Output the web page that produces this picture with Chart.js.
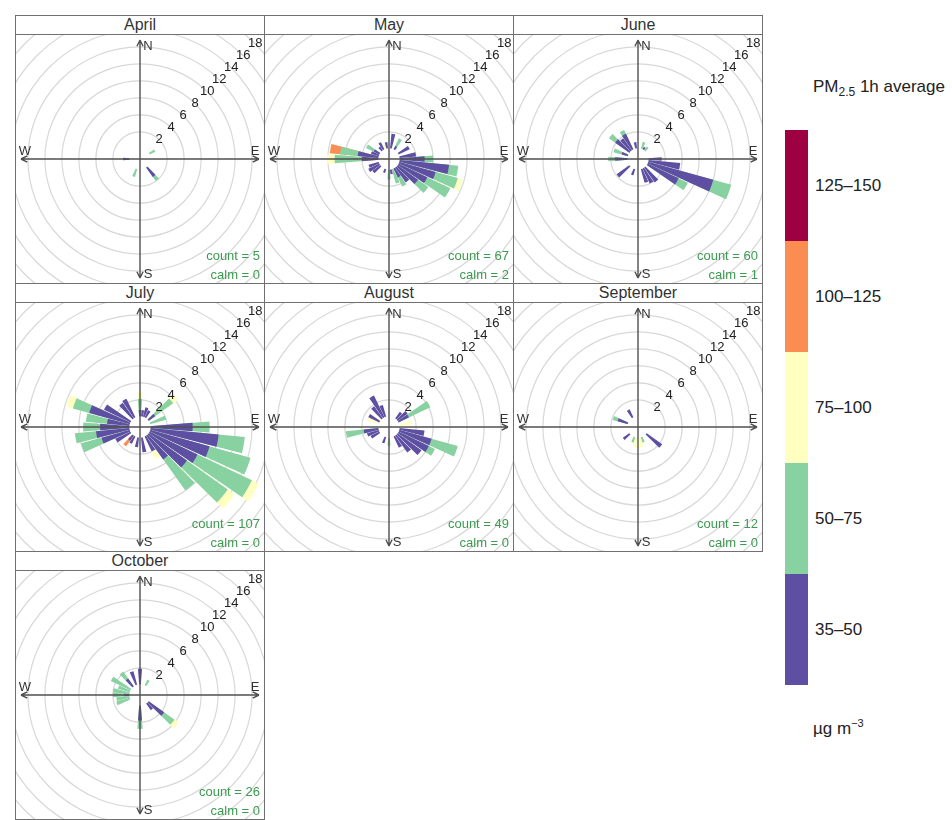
<!DOCTYPE html>
<html>
<head>
<meta charset="utf-8">
<title>PM2.5 wind roses by month</title>
<script src="https://cdn.jsdelivr.net/npm/chart.js@4.4.1/dist/chart.umd.min.js"></script>
<style>
  body { margin: 0; background: #fff; font-family: "Liberation Sans", Arial, sans-serif; }
  .panel { position: absolute; width: 248px; height: 267px; border: 1px solid #707070; background: #fff; }
  .strip { height: 18px; border-bottom: 1px solid #707070; text-align: center; font-size: 16px; line-height: 18px; color: #333; }
  .plot { position: relative; width: 248px; height: 248px; overflow: hidden; }
  .plot canvas { position: absolute; left: -56px; top: -56px; }
  .key-block { position: absolute; left: 785px; width: 23px; }
  .key-label { position: absolute; left: 815px; font-size: 17px; color: #222; white-space: nowrap; }
</style>
</head>
<body>
<div id="panels"></div>
<div id="legend"></div>
<script>
// directions 10..360 deg, grouped 10-90 | 100-180 | 190-270 | 280-360
const MONTHS = ['April', 'May', 'June', 'July', 'August', 'September', 'October'];
const COUNTS = [5, 67, 60, 107, 49, 12, 26];
const CALMS = [0, 2, 1, 0, 0, 0, 0];
const DIRECTIONS = Array.from({ length: 36 }, (_, i) => (i + 1) * 10);
const RING_TICKS = [2, 4, 6, 8, 10, 12, 14, 16, 18, 20];
const RING_LABELS = [2, 4, 6, 8, 10, 12, 14, 16, 18];

const BANDS = ['35\u201350', '50\u201375', '75\u2013100', '100\u2013125', '125\u2013150'];
const BAND_COLORS = ['#5E4FA2', '#88D1A1', '#FFFFBF', '#F98D52', '#9E0142'];

const NONE = new Array(36).fill(0);

// frequency (%) per direction, one array per concentration band
const APR_35 = [0,0,0,0,0,0,0,0,0, 0,0,0,0,1.4,0,0,0,0, 0,0,0,0,0,0,0,0,0.8, 0,0,0,0,0,0,0,0,0];
const APR_50 = [0,0,0,0,0,0.8,0,0,0, 0,0,0,0,0.6,0,0,0,0, 0,1.0,0,0,0,0,0,0,0, 0,0,0,0,0,0,0,0,0];

const MAY_35 = [1.8,0,0.5,0,0,1.5,0,2.0,3.0, 5.9,4.5,3.8,3.0,2.2,1.2,0,0.6,0, 0,0.5,0,0,1.2,1.5,1.3,0,2.0, 2.5,1.0,0.8,0,0.6,1.0,0,0.8,0];
const MAY_50 = [0,0,1.0,0,0,0,0,0,1.0, 1.1,2.7,3.0,1.5,0,1.2,1.8,0,1.2, 0,0,0,0,0,0,0,0,3.2, 2.1,0,1.0,0,0,0,0,0,0];
const MAY_75 = [0,0,0,0,0,0,0,0,0, 0,0.6,0,0,0,0,0,0,0, 0,0,0,0,0,0,0,0,0.9, 0,0,0,0,0,0,0.6,0,0];
const MAY_100 = [0,0,0,0,0,0,0,0,0, 0,0,0,0,0,0,0,0,0, 0,0,0,0,0,0,0,0,0, 1.2,0,0,0,0,0,0,0,0];

const JUN_35 = [0,0,0.4,0,0,0,0,0,1.6, 3.8,8.0,4.1,0,2.2,2.0,1.7,0,0, 0,0.8,0,0,1.9,0,0,0,1.5, 0,0.8,0,2.1,1.8,2.1,0,0.8,0];
const JUN_50 = [0,0.9,0,0.6,0,0,0,0,0, 0,2.2,1.2,0,0,0,0,0,0, 0,0,0,0,0,0,0,0,0.8, 0,1.0,0,0.9,0,0.5,0,0,0];

const JUL_35 = [0.8,1.2,1.0,0,1.0,0,0,0,5.0, 8.1,7.3,6.3,5.6,3.5,2.0,0,1.8,0, 1.2,0,1.0,0.8,0,2.0,3.5,4.0,3.5, 2.7,5.0,3.5,0,2.3,2.5,0,0,0.8];
const JUL_50 = [0,0,0,0,2.6,0,2.0,0,2.0, 3.1,5.0,7.1,5.9,4.5,0,0,0,0, 0,0,0,0,0,0,2.5,2.5,2.0, 2.5,2.0,0,0,0,0,0,0,1.3];
const JUL_75 = [0,0,0,0,0.7,0,0,0,0, 0,0,0.9,1.0,0,1.0,0,0,0, 0,0,0,0,0,0,0,0,0, 0,0.8,0,0,0,0,0,0,0.8];
const JUL_100 = [0,0,0,0,0,0,0,0,0, 0,0,0,0,0,0,0,0,0, 0,0,0,0.8,0,0,0,0,0, 0,0,0,0,0,0,0,0,0];

const AUG_35 = [0,0,0,1.0,1.5,1.4,0,0,0, 3.0,4.0,4.0,3.5,2.5,1.5,0,0,0, 0,0.8,0,0,0,1.2,1.5,1.8,0, 0,0,1.5,0,1.8,2.9,1.5,0,0];
const AUG_50 = [0,0,0,0,0,2.8,0,0,0, 0,3.2,0.8,0,0,0,0,0,1.0, 0,0,0,0,0,0,0,2.1,0, 0,0,0,0,0,0,0,0,0];
const AUG_75 = [0,0,0,0,0,0,0,1.5,0, 0,0,0,0,0,0,0,0,0, 0,0,0,0,0,0,0,0,0, 0,1.5,0,0,0,0,0,0,0];

const SEP_35 = [0,0,0,0,0,0,0,0,0, 0,0,0,2.3,0,0,0,0,0, 0,0,0,0,1.0,0,0,0,0, 0,1.3,0,0,0,1.1,0,0,0];
const SEP_50 = [0,0,0,0,0,0,0,0,0, 0,0,0,0,0,0,0.7,0,0, 0,0.7,0,0,0,0,0,0,0, 0,0.6,0,0,0,0,0,0,0];
const SEP_75 = [0,0,0,0,0,0,0,0,0, 0,0,0,0,0,0,0,1.2,1.3, 1.2,0,0,0,0,0,0,0,0, 0,0,0,0,0,0,0,0,0];

const OCT_35 = [0,0,0,0,0,0,0,0,0, 0,0,0,2.3,1.0,0,0,0,1.8, 0,0,0,0,0,0,0,0,0.7, 0,0,0,0,1.2,0,1.7,0,1.9];
const OCT_50 = [0,0,0.8,0,0,0,0,0,0, 0,0,0,1.5,0,0,0,0,1.0, 0,0,0,0,0,0,1.7,1.6,1.3, 2.0,1.5,2.6,0,1.0,0,0,0,0];
const OCT_75 = [0,0,0,0,0,0,0,0,0, 0,0,0,0.6,0,0,0,0,0, 0,0,0,0,0,0,0,0,0, 0,0,0,0,0,0,0,0,0];

const MONTH_BANDS = [
  [APR_35, APR_50, NONE, NONE, NONE],
  [MAY_35, MAY_50, MAY_75, MAY_100, NONE],
  [JUN_35, JUN_50, NONE, NONE, NONE],
  [JUL_35, JUL_50, JUL_75, JUL_100, NONE],
  [AUG_35, AUG_50, AUG_75, NONE, NONE],
  [SEP_35, SEP_50, SEP_75, NONE, NONE],
  [OCT_35, OCT_50, OCT_75, NONE, NONE]
];

const WEDGE_DEG = 9;   // each 10 deg sector: 9 deg wedge + 1 deg gap
const GAP_DEG = 1;
const AXIS_HALF = 119;
const FONT = '"Liberation Sans", Arial, sans-serif';

Chart.defaults.font.family = FONT;

// axes, hole, labels, counts drawn on top of the wedges
const roseDecor = {
  id: 'roseDecor',
  afterDatasetsDraw(chart, args, opts) {
    const s = chart.scales.r;
    const ctx = chart.ctx;
    const cx = s.xCenter, cy = s.yCenter;
    ctx.save();

    ctx.fillStyle = '#fff';
    ctx.beginPath();
    ctx.arc(cx, cy, s.getDistanceFromCenterForValue(0) + 0.5, 0, 2 * Math.PI);
    ctx.fill();

    ctx.strokeStyle = '#505050';
    ctx.lineWidth = 1.4;
    ctx.beginPath();
    ctx.moveTo(cx - AXIS_HALF, cy); ctx.lineTo(cx + AXIS_HALF, cy);
    ctx.moveTo(cx, cy - AXIS_HALF); ctx.lineTo(cx, cy + AXIS_HALF);
    [[1, 0], [-1, 0], [0, 1], [0, -1]].forEach(([dx, dy]) => {
      const tx = cx + dx * AXIS_HALF, ty = cy + dy * AXIS_HALF;
      const a = Math.atan2(dy, dx) + Math.PI;
      [a - 0.45, a + 0.45].forEach(b => {
        ctx.moveTo(tx, ty);
        ctx.lineTo(tx + 7 * Math.cos(b), ty + 7 * Math.sin(b));
      });
    });
    ctx.stroke();

    ctx.fillStyle = '#333';
    ctx.font = '13px ' + FONT;
    ctx.textAlign = 'center';
    ctx.textBaseline = 'middle';
    ctx.fillText('N', cx + 8, cy - 113);
    ctx.fillText('S', cx + 8, cy + 115);
    ctx.fillText('E', cx + 115, cy - 8);
    ctx.fillText('W', cx - 115, cy - 8);

    ctx.fillStyle = '#222';
    RING_LABELS.forEach(v => {
      const d = s.getDistanceFromCenterForValue(v);
      ctx.fillText(String(v), cx + d * Math.SQRT1_2, cy - d * Math.SQRT1_2);
    });

    ctx.fillStyle = '#3c9a50';
    ctx.textAlign = 'right';
    ctx.fillText('count = ' + opts.count, cx + 120, cy + 97);
    ctx.fillText('calm = ' + opts.calm, cx + 120, cy + 116);
    ctx.restore();
  }
};

function wedgeSeries(values) {
  const out = [];
  values.forEach(v => { out.push(v); out.push(0); });
  return out;
}

function buildRose(canvas, m) {
  const bands = MONTH_BANDS[m];
  const running = new Array(36).fill(0);
  const datasets = bands.map((band, b) => {
    const vals = band.map((v, i) => {
      running[i] += v;
      return v > 0 ? +running[i].toFixed(2) : 0;
    });
    return {
      label: BANDS[b],
      data: wedgeSeries(vals),
      backgroundColor: c => (c.dataIndex % 2 === 0 && c.raw > 0) ? BAND_COLORS[b] : 'rgba(0,0,0,0)',
      borderWidth: 0,
      angle: c => (c.dataIndex % 2 === 0 ? WEDGE_DEG : GAP_DEG)
    };
  });
  const labels = [];
  DIRECTIONS.forEach(d => { labels.push(d + '\u00b0'); labels.push(''); });

  return new Chart(canvas.getContext('2d'), {
    type: 'polarArea',
    data: { labels, datasets },
    options: {
      responsive: false,
      animation: false,
      devicePixelRatio: 1,
      layout: { padding: 0 },
      scales: {
        r: {
          min: -1.2,
          max: 20,
          startAngle: 10 - WEDGE_DEG / 2,
          afterBuildTicks: scale => { scale.ticks = RING_TICKS.map(v => ({ value: v })); },
          ticks: { display: false },
          grid: { color: '#d8d8d8', lineWidth: 1.2 },
          angleLines: { display: false },
          pointLabels: { display: false }
        }
      },
      plugins: {
        legend: { display: false },
        tooltip: { enabled: false },
        roseDecor: { count: COUNTS[m], calm: CALMS[m] }
      }
    },
    plugins: [roseDecor]
  });
}

const host = document.getElementById('panels');
MONTHS.forEach((name, m) => {
  const col = m % 3, row = Math.floor(m / 3);
  const panel = document.createElement('div');
  panel.className = 'panel';
  panel.style.left = (15 + col * 249) + 'px';
  panel.style.top = (15 + row * 268) + 'px';
  panel.innerHTML = '<div class="strip">' + name + '</div><div class="plot"><canvas width="360" height="360"></canvas></div>';
  host.appendChild(panel);
  buildRose(panel.querySelector('canvas'), m);
});

// colour key
const legend = document.getElementById('legend');
const KEY_TOP = 130, KEY_STEP = 111;
let html = '<div class="key-label" style="top:77px;left:813px">PM<sub style="font-size:12px">2.5</sub> 1h average</div>';
BANDS.slice().reverse().forEach((lab, k) => {
  const color = BAND_COLORS[BANDS.length - 1 - k];
  html += '<div class="key-block" style="top:' + (KEY_TOP + k * KEY_STEP) + 'px;height:' + KEY_STEP + 'px;background:' + color + '"></div>';
  html += '<div class="key-label" style="top:' + (KEY_TOP + k * KEY_STEP + KEY_STEP / 2 - 10) + 'px">' + lab + '</div>';
});
html += '<div class="key-label" style="top:717px;left:813px">\u00b5g m<sup style="font-size:11px">\u22123</sup></div>';
legend.innerHTML = html;
</script>
</body>
</html>
